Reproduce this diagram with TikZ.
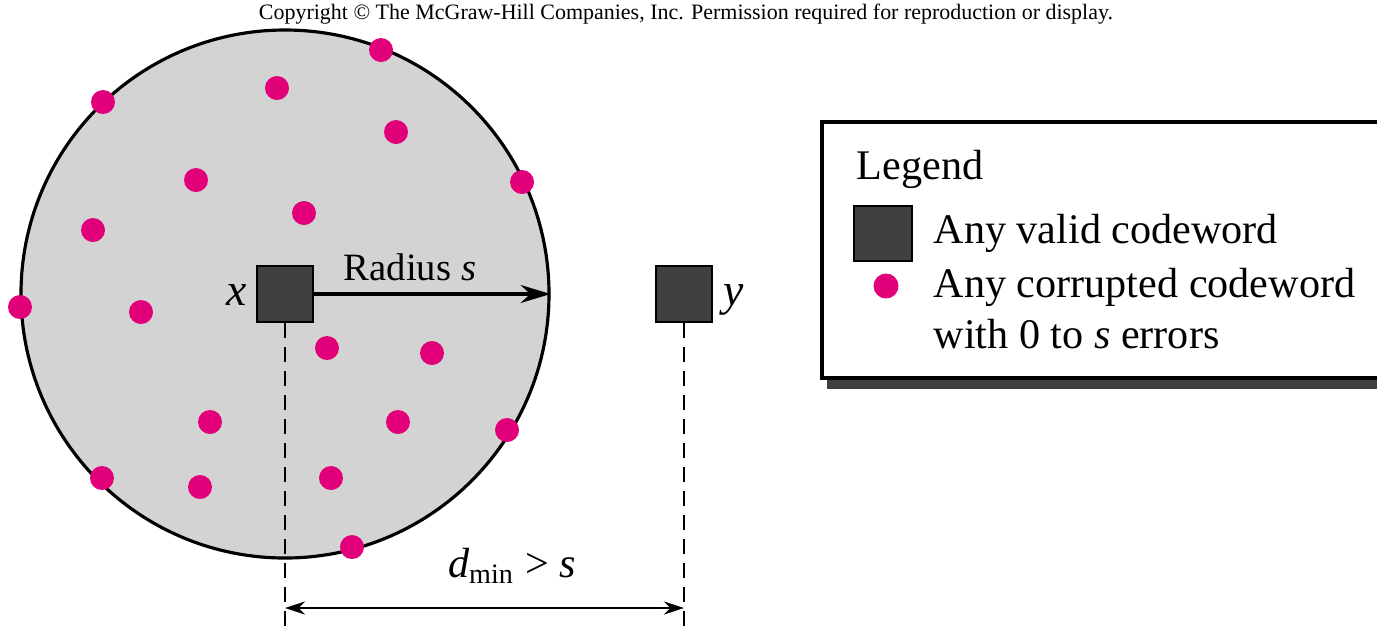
\documentclass[tikz,border=0pt]{standalone}
\usepackage{fontspec}
\setmainfont{Liberation Serif}
\usetikzlibrary{arrows.meta,positioning}

\definecolor{zonegray}{RGB}{211,211,211}
\definecolor{dotpink}{RGB}{226,0,122}
\definecolor{boxgray}{RGB}{64,64,64}

\tikzset{
  codeword/.style={draw=black,fill=boxgray,line width=0.8pt,minimum size=0.56cm,inner sep=0pt},
  corrupt/.style={fill=dotpink},
  guide/.style={dash pattern=on 0.15cm off 0.09cm,line width=0.6pt},
  label/.style={font=\fontsize{12}{14}\selectfont,inner sep=0pt}
}

\begin{document}
\begin{tikzpicture}
%\draw[help lines] (0,0) grid (14,7);
\useasboundingbox (0,0) rectangle (13.77,6.28);
\node[font=\fontsize{6.25}{7}\selectfont] (copy) at (6.86,6.14)
    {Copyright \textcopyright{} The McGraw-Hill Companies, Inc. Permission required for reproduction or display.};
% sphere of radius s round x
\node[circle,draw,fill=zonegray,line width=0.9pt,minimum size=5.28cm,inner sep=0pt] (sphere) at (2.85,3.34) {};
\foreach \px/\py in {3.81/5.78,1.03/5.26,2.77/5.40,3.96/4.96,1.96/4.48,5.22/4.46,
    3.04/4.15,0.93/3.98,0.20/3.21,1.41/3.16,3.27/2.80,4.32/2.75,2.10/2.06,
    3.98/2.06,5.07/1.98,1.02/1.50,2.00/1.41,3.31/1.50,3.52/0.81}
  \fill[corrupt] (\px,\py) circle (0.12);
\node[codeword] (x) at (2.85,3.34) {};
\node[codeword] (y) at (6.84,3.34) {};
\node[font=\fontsize{13}{15}\selectfont\itshape,inner sep=0pt,anchor=base east] (xname) at (2.47,3.23) {x};
\node[font=\fontsize{13}{15}\selectfont\itshape,inner sep=0pt,anchor=base west] (yname) at (7.23,3.23) {y};
\draw[-{Stealth[length=0.3cm,width=0.18cm]},line width=0.9pt] (x) -- (sphere.east);
\node[font=\fontsize{11}{13}\selectfont,anchor=base] (radius) at (4.10,3.48) {Radius \textit{s}};
% distance between the two codewords
\coordinate (xfoot) at (2.85,0);
\coordinate (yfoot) at (6.84,0);
\draw[guide] (x) -- (xfoot);
\draw[guide] (y) -- (yfoot);
\coordinate (xdim) at (2.85,0.20);
\coordinate (ydim) at (6.84,0.20);
\draw[{Stealth[length=0.2cm,width=0.13cm]}-{Stealth[length=0.2cm,width=0.13cm]},line width=0.7pt] (xdim) -- (ydim);
\node[font=\fontsize{12}{14}\selectfont,anchor=base] (dmin) at (5.12,0.51) {\textit{d}\textsubscript{min} \textgreater{} \textit{s}};
% legend
\fill[boxgray] (8.27,2.39) rectangle (13.9,2.49);
\draw[line width=1pt,fill=white] (8.22,2.50) rectangle (13.9,5.06);
\node[label,anchor=base west] (legend) at (8.56,4.49) {Legend};
\node[codeword,minimum width=0.58cm,minimum height=0.55cm] (key) at (8.83,3.945) {};
\node[label,anchor=base west] (valid) at (9.33,3.85) {Any valid codeword};
\fill[corrupt] (8.86,3.42) circle (0.125);
\node[label,anchor=base west] (bad) at (9.33,3.31) {Any corrupted codeword};
\node[label,anchor=base west] (bad2) at (9.33,2.80) {with 0 to \textit{s} errors};
\end{tikzpicture}
\end{document}
